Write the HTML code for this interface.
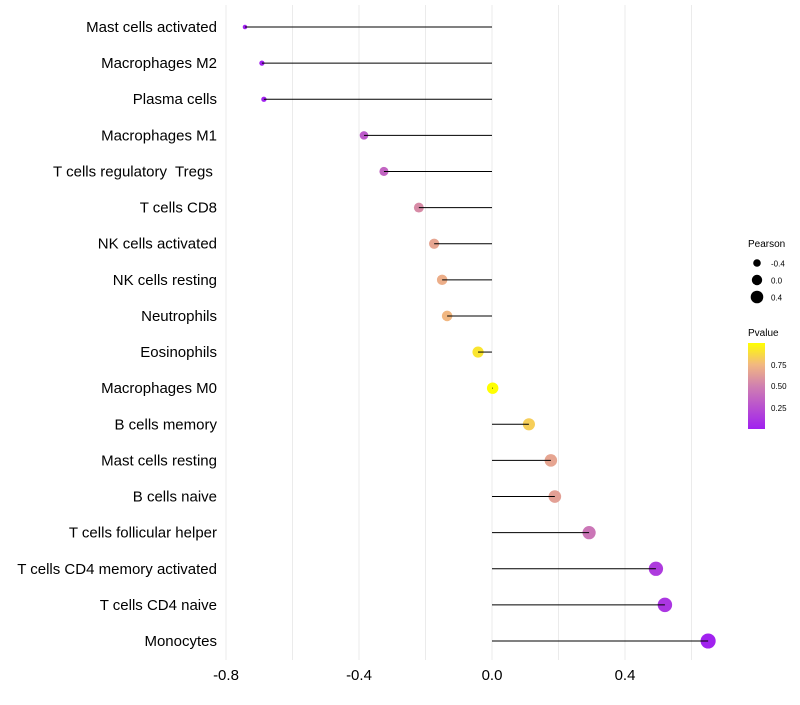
<!DOCTYPE html>
<html><head><meta charset="utf-8"><style>
body{margin:0;background:#fff;font-family:"Liberation Sans",sans-serif}
</style></head><body>
<svg id="chart" width="800" height="700" xmlns="http://www.w3.org/2000/svg">
<defs><linearGradient id="pg" x1="0" y1="1" x2="0" y2="0">
<stop offset="0" stop-color="#A020F0"/><stop offset="0.5" stop-color="#D080B0"/><stop offset="0.75" stop-color="#F2B880"/><stop offset="1" stop-color="#FFFF00"/></linearGradient></defs>
<g id="grid"></g><g id="marks"></g><g id="stems"></g><g id="labels"></g>
<g font-size="10">
<text x="748" y="247" fill="#000">Pearson</text>
<circle cx="757" cy="263" r="3.8" fill="#000"/><text x="771" y="266.5" font-size="8">-0.4</text>
<circle cx="757" cy="280" r="5.2" fill="#000"/><text x="771" y="283.5" font-size="8">0.0</text>
<circle cx="757" cy="297" r="6.3" fill="#000"/><text x="771" y="300.5" font-size="8">0.4</text>
<text x="748" y="336" fill="#000">Pvalue</text>
<rect x="748" y="343" width="17" height="86" fill="url(#pg)"/>
<text x="771" y="368" font-size="8">0.75</text>
<text x="771" y="389" font-size="8">0.50</text>
<text x="771" y="411" font-size="8">0.25</text>
</g>
</svg>
<script>
const categories=["Mast cells activated","Macrophages M2","Plasma cells","Macrophages M1","T cells regulatory  Tregs ","T cells CD8","NK cells activated","NK cells resting","Neutrophils","Eosinophils","Macrophages M0","B cells memory","Mast cells resting","B cells naive","T cells follicular helper","T cells CD4 memory activated","T cells CD4 naive","Monocytes"];
const pearson=[-0.743,-0.692,-0.686,-0.385,-0.325,-0.22,-0.174,-0.15,-0.135,-0.042,0.002,0.111,0.177,0.189,0.292,0.493,0.52,0.65];
const pvalue=[0.01,0.02,0.02,0.3,0.36,0.55,0.66,0.7,0.74,0.9,0.99,0.82,0.66,0.64,0.45,0.15,0.12,0.02];
const xticks=[-0.8,-0.4,0.0,0.4];
const NS="http://www.w3.org/2000/svg";
const X=v=>492+v*332.5;
const Y=i=>27+i*(614/17);
const pmin=0.01,pmax=0.99;
function col(p){const t=Math.max(0,Math.min(1,(p-pmin)/(pmax-pmin)));
const st=[[0,[160,32,240]],[0.5,[208,128,176]],[0.75,[242,184,128]],[1,[255,255,0]]];
for(let k=1;k<st.length;k++){if(t<=st[k][0]){const a=st[k-1],b=st[k],f=(t-a[0])/(b[0]-a[0]);
return `rgb(${a[1].map((c,j)=>Math.round(c+(b[1][j]-c)*f)).join(',')})`;}}return 'rgb(255,255,0)';}
const vmin=Math.min(...pearson),vmax=Math.max(...pearson);
const R=v=>Math.sqrt(5+52*(v-vmin)/(vmax-vmin));
function mk(tag,at,parent){const e=document.createElementNS(NS,tag);for(const k in at)e.setAttribute(k,at[k]);document.getElementById(parent).appendChild(e);return e;}
for(let v=-0.8;v<=0.61;v+=0.2){const g=mk('line',{x1:X(v),x2:X(v),y1:5,y2:660,stroke:'#ebebeb','stroke-width':1},'grid');

}
xticks.forEach(v=>{const t=mk('text',{x:X(v),y:680,'text-anchor':'middle','font-size':15,fill:'#000'},'labels');t.textContent=v.toFixed(1);

});
categories.forEach((c,i)=>{
const t=mk('text',{x:217,y:Y(i)+5,'text-anchor':'end','font-size':15,fill:'#000'},'labels');t.textContent=c;t.setAttribute('xml:space','preserve');t.style.whiteSpace='pre';


const d=mk('circle',{cx:X(pearson[i]),cy:Y(i),r:R(pearson[i]),fill:col(pvalue[i])},'marks');


const l=mk('line',{x1:X(0),x2:X(pearson[i]),y1:Y(i),y2:Y(i),stroke:'#000','stroke-width':1},'stems');


});
</script>
</body></html>
